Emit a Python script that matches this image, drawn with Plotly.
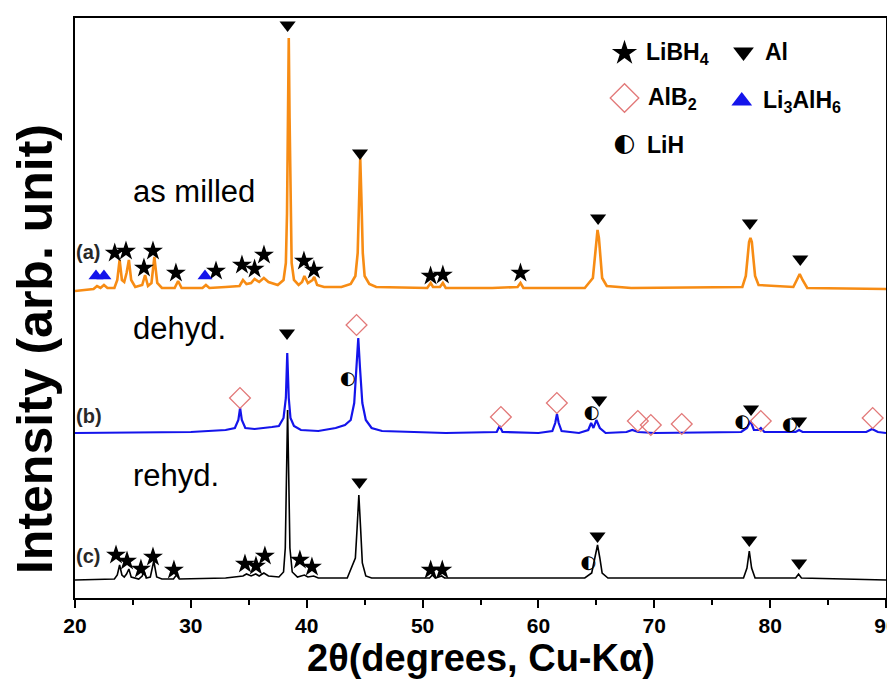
import plotly.graph_objects as go

# ---------------- data (2theta in degrees, intensity in arb. unit) ----------------
two_theta_a = [20.0, 21.0, 21.6, 21.9, 22.2, 22.5, 22.8, 23.4, 23.65, 23.85, 24.05, 24.25, 24.45, 24.65, 24.85,
               25.2, 25.8, 26.05, 26.3, 26.6, 26.85, 27.1, 27.5, 28.6, 28.9, 29.2, 31.0, 31.3, 31.6, 33.0,
               34.2, 34.5, 34.8, 35.2, 35.5, 35.9, 36.3, 36.7, 37.5, 38.0, 38.2, 38.3, 38.38, 38.45, 38.52,
               38.6, 38.7, 38.9, 39.3, 39.6, 39.8, 40.1, 40.5, 40.65, 40.9, 41.5, 43.0, 43.8, 44.2, 44.4,
               44.52, 44.62, 44.72, 44.84, 45.0, 45.4, 46.0, 50.4, 50.7, 50.9, 51.5, 51.75, 52.0, 56.0, 58.2,
               58.45, 58.7, 64.0, 64.7, 64.85, 64.98, 65.1, 65.22, 65.35, 65.5, 65.9, 68.0, 77.6, 77.9, 78.05,
               78.18, 78.3, 78.42, 78.55, 78.7, 79.0, 82.0, 82.3, 82.55, 82.8, 83.2, 90.0]
intensity_a = [307, 308, 309, 312, 310, 313, 310, 310, 318, 338, 318, 316, 325, 338, 318,
               311, 313, 323, 312, 315, 341, 315, 310, 310, 317, 310, 310, 313, 310, 311,
               312, 318, 314, 315, 319, 316, 320, 316, 313, 318, 335, 385, 480, 560, 480,
               385, 335, 318, 313, 316, 322, 315, 318, 321, 313, 311, 311, 314, 322, 345,
               400, 440, 400, 345, 322, 314, 311, 310, 315, 311, 311, 315, 310, 310, 311,
               315, 310, 310, 320, 340, 360, 368, 360, 340, 320, 312, 310, 311, 322, 340,
               356, 360, 356, 340, 322, 313, 311, 318, 324, 318, 310, 309]

two_theta_b = [20.0, 30.0, 33.0, 33.8, 34.1, 34.25, 34.4, 34.7, 35.5, 36.5, 37.0, 37.6, 38.0, 38.2, 38.32,
               38.45, 38.6, 38.9, 39.5, 41.0, 42.5, 43.3, 43.8, 44.1, 44.3, 44.45, 44.6, 44.8, 45.1, 45.6,
               46.5, 52.0, 56.4, 56.65, 56.9, 60.0, 61.2, 61.45, 61.6, 61.75, 62.0, 63.5, 64.3, 64.55, 64.75,
               65.0, 65.3, 65.8, 67.6, 68.1, 68.6, 70.0, 77.5, 78.0, 78.3, 78.6, 79.0, 79.2, 79.5, 82.2,
               82.5, 82.8, 88.3, 88.8, 89.3, 90.0]
intensity_b = [165, 166, 168, 170, 178, 190, 178, 170, 169, 170, 171, 172, 180, 200, 245,
               200, 180, 172, 168, 167, 170, 173, 178, 195, 230, 260, 230, 195, 178, 170,
               167, 165, 166, 172, 166, 165, 167, 175, 184, 175, 167, 165, 168, 175, 170,
               178, 170, 165, 166, 168, 166, 165, 166, 170, 177, 168, 168, 170, 166, 166,
               168, 166, 166, 169, 166, 165]

two_theta_c = [20.0, 23.4, 23.65, 23.85, 24.05, 24.25, 24.45, 24.65, 24.85, 25.5, 25.8, 25.95, 26.15, 26.5,
               26.8, 27.05, 27.5, 28.5, 28.75, 29.0, 33.0, 34.5, 34.8, 35.2, 35.6, 35.9, 36.3, 36.7, 37.6,
               38.0, 38.15, 38.25, 38.35, 38.45, 38.55, 38.75, 39.2, 39.8, 40.1, 40.6, 41.0, 43.5, 44.2,
               44.35, 44.5, 44.65, 44.8, 45.1, 45.6, 50.6, 50.85, 51.1, 51.65, 51.9, 64.0, 64.6, 64.9, 65.1,
               65.3, 65.5, 66.0, 77.7, 78.0, 78.2, 78.4, 78.7, 82.2, 82.45, 82.7, 90.0]
intensity_c = [18, 19, 23, 33, 23, 21, 24, 29, 21, 19, 22, 27, 20, 21,
               37, 21, 19, 19, 23, 19, 20, 22, 24, 22, 24, 22, 25, 22, 21,
               26, 50, 120, 188, 120, 50, 26, 21, 23, 21, 22, 20, 20, 40,
               70, 103, 70, 35, 22, 20, 20, 23, 20, 22, 20, 20, 25, 40, 53,
               40, 25, 20, 20, 30, 47, 30, 20, 20, 24, 20, 18]

# phase markers (2theta, y)
libh4_x = [23.43, 24.4, 25.95, 26.73, 28.71, 32.17, 34.41, 35.5, 36.31, 39.76, 40.62, 50.69, 51.75, 58.45,
           23.54, 24.49, 25.69, 26.73, 28.54, 34.67, 35.62, 36.39, 39.41, 40.45, 50.7, 51.7]
libh4_y = [345, 347, 330, 347, 325, 327, 333, 329, 343, 337, 328, 322, 323, 325,
           43, 37, 29, 41, 28, 34, 32, 42, 38, 31, 28, 28]
al_x = [38.35, 44.6, 65.15, 78.25, 82.6, 38.3, 65.25, 78.35, 82.5, 44.55, 65.1, 78.2, 82.5]
al_y = [573, 445, 380, 375, 339, 265, 198, 189, 177, 116, 62, 58, 35]
alb2_x = [34.24, 44.3, 56.76, 61.59, 68.58, 69.7, 72.37, 79.19, 88.85]
alb2_y = [200, 273, 181, 195, 177, 173, 174, 177, 180]
li3alh6_x = [21.81, 22.5, 31.22]
li3alh6_y = [322, 322, 322]
lih_x = [43.55, 64.6, 77.6, 81.7, 64.3]
lih_y = [219, 185, 176, 173, 35]

x_ticks = [20, 30, 40, 50, 60, 70, 80, 90]

ORANGE = "rgb(247,140,20)"
BLUE = "rgb(20,20,235)"
PINK = "rgb(226,120,120)"
FONT = "Liberation Sans, Arial"

fig = go.Figure()
fig.add_trace(go.Scatter(x=two_theta_a, y=intensity_a, mode="lines", line=dict(color=ORANGE, width=2.6)))
fig.add_trace(go.Scatter(x=two_theta_b, y=intensity_b, mode="lines", line=dict(color=BLUE, width=2.2)))
fig.add_trace(go.Scatter(x=two_theta_c, y=intensity_c, mode="lines", line=dict(color="black", width=1.6)))

fig.add_trace(go.Scatter(x=libh4_x, y=libh4_y, mode="markers",
                         marker=dict(symbol="star", size=15, color="black", line=dict(width=0))))
fig.add_trace(go.Scatter(x=al_x, y=al_y, mode="markers",
                         marker=dict(symbol="triangle-down", size=14, color="black", line=dict(width=0))))
fig.add_trace(go.Scatter(x=alb2_x, y=alb2_y, mode="markers",
                         marker=dict(symbol="diamond-open", size=16, color=PINK, line=dict(width=1.3, color=PINK))))
fig.add_trace(go.Scatter(x=li3alh6_x, y=li3alh6_y, mode="markers",
                         marker=dict(symbol="triangle-up", size=13, color=BLUE, line=dict(width=0))))
fig.add_trace(go.Scatter(x=lih_x, y=lih_y, mode="text", text=["\u25d0"] * len(lih_x),
                         textfont=dict(family="DejaVu Sans", size=18, color="black")))

# legend drawn in-plot
leg_mx = [67.43, 77.7, 67.43, 77.55, 67.43]
leg_my = [545, 546, 500, 497, 453]
fig.add_trace(go.Scatter(x=[leg_mx[0]], y=[leg_my[0]], mode="markers",
                         marker=dict(symbol="star", size=19, color="black", line=dict(width=0))))
fig.add_trace(go.Scatter(x=[leg_mx[1]], y=[leg_my[1]], mode="markers",
                         marker=dict(symbol="triangle-down", size=18, color="black", line=dict(width=0))))
fig.add_trace(go.Scatter(x=[leg_mx[2]], y=[leg_my[2]], mode="markers",
                         marker=dict(symbol="diamond-open", size=22, color=PINK, line=dict(width=1.3, color=PINK))))
fig.add_trace(go.Scatter(x=[leg_mx[3]], y=[leg_my[3]], mode="markers",
                         marker=dict(symbol="triangle-up", size=18, color=BLUE, line=dict(width=0))))
fig.add_trace(go.Scatter(x=[leg_mx[4]], y=[leg_my[4]], mode="text", text=["\u25d0"],
                         textfont=dict(family="DejaVu Sans", size=25, color="black")))

leg_text = ["<b>LiBH<sub>4</sub></b>", "<b>Al</b>", "<b>AlB<sub>2</sub></b>",
            "<b>Li<sub>3</sub>AlH<sub>6</sub></b>", "<b>LiH</b>"]
leg_tx = [69.1, 79.36, 69.27, 79.2, 69.18]
for t, x, y in zip(leg_text, leg_tx, leg_my):
    fig.add_annotation(x=x, y=y, text=t, showarrow=False, xanchor="left", yanchor="middle",
                       font=dict(family=FONT, size=23, color="black"))

# sample labels
for t, y in zip(["as milled", "dehyd.", "rehyd."], [407, 270, 123]):
    fig.add_annotation(x=24.83, y=y, text=t, showarrow=False, xanchor="left", yanchor="middle",
                       font=dict(family=FONT, size=31, color="black"))
for t, y in zip(["<b>(a)</b>", "<b>(b)</b>", "<b>(c)</b>"], [346, 182, 42]):
    fig.add_annotation(x=0.0, xref="paper", y=y, text=t, showarrow=False, xanchor="left", yanchor="middle",
                       xshift=-1, font=dict(family=FONT, size=20, color="rgb(40,40,40)"))

# axis titles
fig.add_annotation(x=0.5, xref="paper", y=-0.103, yref="paper", text="<b>2θ(degrees, Cu-Kα)</b>",
                   showarrow=False, xanchor="center", yanchor="middle",
                   font=dict(family=FONT, size=38, color="black"))
fig.add_annotation(x=-0.05, xref="paper", y=0.43, yref="paper", text="<b>Intensity (arb. unit)</b>",
                   showarrow=False, textangle=-90, xanchor="center", yanchor="middle",
                   font=dict(family=FONT, size=50, color="black"))

fig.update_layout(
    width=895, height=682,
    margin=dict(l=67, r=17, t=10, b=92, autoexpand=False),
    plot_bgcolor="white", paper_bgcolor="white",
    showlegend=False,
    font=dict(family=FONT, color="black"),
)
fig.update_xaxes(
    range=[20, 90], tickvals=x_ticks, ticktext=[f"<b>{v}</b>" for v in x_ticks],
    ticks="outside", ticklen=8, tickwidth=2, tickcolor="black",
    minor=dict(dtick=5, ticks="outside", ticklen=5, tickwidth=2, tickcolor="black"),
    tickfont=dict(size=21, color="black"),
    showline=True, linecolor="black", linewidth=2, mirror=True,
    showgrid=False, zeroline=False, automargin=False,
)
fig.update_yaxes(
    range=[0, 580], showticklabels=False, ticks="",
    showline=True, linecolor="black", linewidth=2, mirror=True,
    showgrid=False, zeroline=False, automargin=False,
)

fig.write_html("out.html")
